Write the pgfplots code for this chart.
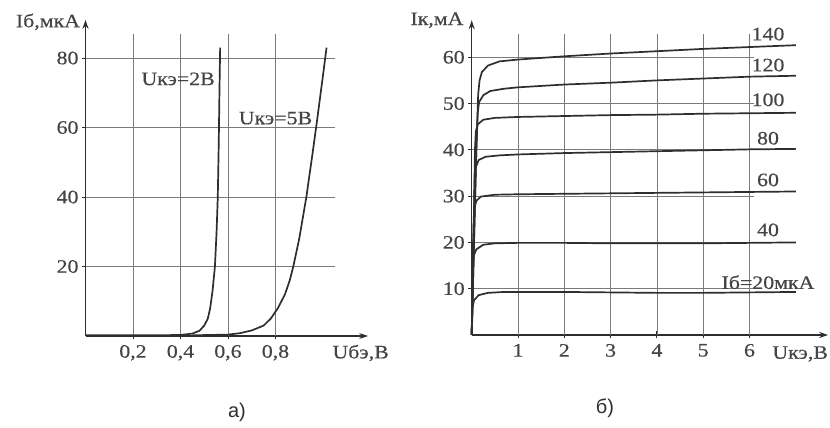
\documentclass[border=0pt]{standalone}
\usepackage{pgfplots}
\pgfplotsset{compat=1.18}
\usepackage{fontspec}
\setmainfont{Liberation Serif}[FakeStretch=1.15, FakeBold=0.4]
\newfontfamily\sansf{Liberation Sans}
\usetikzlibrary{arrows.meta}
\definecolor{ink}{HTML}{2E2E2E}
\definecolor{txt}{HTML}{444444}
\definecolor{gridc}{HTML}{7A7A7A}
\tikzset{gridl/.style={gridc, line width=0.7pt},
  lbl/.style={font=\fontsize{19}{19}\selectfont, text=txt, inner sep=1pt}}
\begin{document}
\begin{tikzpicture}
\useasboundingbox (0pt,0pt) rectangle (830pt,428pt);
\pgfplotsset{
  common/.style={
    scale only axis,
    axis lines=left,
    axis line style={-{Stealth[length=9pt,width=6pt]}, line width=1.5pt, ink},
    tick align=center,
    major tick length=7pt,
    tick style={ink, line width=0.9pt},
    ticklabel style={font=\fontsize{19}{19}\selectfont, text=txt},
    xticklabel style={yshift=-2pt},
    /pgf/number format/assume math mode=true,
    clip=false,
  },
  curve/.style={ink, line width=1.7pt},
}
% ---------- a) ----------
\begin{axis}[common,
  at={(85.5pt,92pt)}, anchor=south west,
  width=282.6pt, height=316.2pt,
  xmin=0, xmax=1.19, ymin=0, ymax=91,
  xtick={0.2,0.4,0.6,0.8},
  xticklabels={{0,2},{0,4},{0,6},{0,8}},
  ytick={20,40,60,80},
]
\foreach \xx in {0.2,0.4,0.6,0.8} {
  \edef\tmp{\noexpand\draw[gridl] (axis cs:\xx,0) -- (axis cs:\xx,87);}\tmp
}
\foreach \yy in {20,40,60,80} {
  \edef\tmp{\noexpand\draw[gridl] (axis cs:0,\yy) -- (axis cs:1.05,\yy);}\tmp
}
\addplot[curve] coordinates {(0,0.2)(0.3,0.2)(0.4,0.3)(0.45,0.7)(0.48,1.5)(0.5,3)(0.515,5)(0.525,8)(0.535,13)(0.545,20)(0.552,30)(0.557,40)(0.561,55)(0.564,70)(0.567,83)};
\addplot[curve] coordinates {(0.45,0.2)(0.6,0.4)(0.65,0.8)(0.7,1.6)(0.75,3)(0.78,5)(0.81,8)(0.84,12)(0.86,16)(0.875,20)(0.9,28)(0.93,40)(0.955,52)(0.975,62)(1.0,75)(1.015,83)};
\node[lbl] at (axis cs:0.39,74) {Uкэ=2В};
\node[lbl] at (axis cs:0.8,62.7) {Uкэ=5В};
\node[lbl] at (axis cs:-0.158,90.4) {Iб,мкА};
\node[lbl, anchor=west] at (axis cs:1.035,-4.9) {Uбэ,В};
\end{axis}
% ---------- b) ----------
\begin{axis}[common,
  at={(471.7pt,93pt)}, anchor=south west,
  width=356.5pt, height=314.8pt,
  xmin=0, xmax=7.7, ymin=0, ymax=68,
  xtick={1,2,3,4,5,6},
  ytick={10,20,30,40,50,60},
]
\foreach \xx in {1,2,3,4,5,6} {
  \edef\tmp{\noexpand\draw[gridl] (axis cs:\xx,0) -- (axis cs:\xx,65);}\tmp
}
\foreach \yy in {10,20,30,40,50,60} {
  \edef\tmp{\noexpand\draw[gridl] (axis cs:0,\yy) -- (axis cs:6.1,\yy);}\tmp
}
\addplot[curve] coordinates {(0,0)(0.05,20)(0.1,40)(0.14,52)(0.17,55)(0.22,56.8)(0.35,58.2)(0.6,59.1)(1,59.5)(2,60.2)(3,60.8)(4,61.3)(5,61.8)(6,62.2)(7,62.6)};
\addplot[curve] coordinates {(0,0)(0.05,20)(0.1,40)(0.13,48)(0.16,50.3)(0.25,51.8)(0.4,52.7)(0.7,53.2)(1,53.5)(2,54.1)(3,54.5)(4,55)(5,55.4)(6,55.8)(7,56)};
\addplot[curve] coordinates {(0,0)(0.04,20)(0.07,40)(0.09,44)(0.13,45.5)(0.25,46.5)(0.5,46.9)(1,47.1)(2,47.3)(3,47.5)(4,47.6)(5,47.8)(6,47.9)(7,48)};
\addplot[curve] coordinates {(0,0)(0.04,20)(0.06,33)(0.08,36)(0.15,37.8)(0.3,38.5)(0.6,38.8)(1,39)(2,39.3)(3,39.5)(4,39.7)(5,39.9)(6,40.1)(7,40.2)};
\addplot[curve] coordinates {(0,0)(0.03,20)(0.05,27)(0.1,29)(0.2,29.9)(0.5,30.3)(1,30.4)(2,30.5)(3,30.6)(4,30.7)(5,30.8)(6,30.9)(7,31)};
\addplot[curve] coordinates {(0,0)(0.02,12)(0.04,17)(0.1,18.5)(0.25,19.5)(0.5,19.8)(1,19.9)(2,19.9)(3,19.8)(4,19.8)(5,19.8)(6,19.9)(7,20)};
\addplot[curve] coordinates {(0,0)(0.02,6)(0.05,7.5)(0.15,8.6)(0.35,9.1)(0.7,9.3)(1,9.3)(2,9.3)(3,9.2)(4,9.1)(5,9.1)(6,9.2)(7,9.3)};
\foreach \lab/\yy in {140/65, 120/58.3, 100/50.8, 80/42.5, 60/33.5, 40/22.7} {
  \edef\tmp{\noexpand\node[lbl] at (axis cs:6.4,\yy) {\lab};}\tmp
}
\node[lbl] at (axis cs:6.4,11.4) {Iб=20мкА};
\node[lbl] at (axis cs:-0.75,68) {Iк,мА};
\node[lbl, anchor=east] at (axis cs:7.72,-4.1) {Uкэ,В};
\end{axis}
\node[font=\sansf\fontsize{20}{20}\selectfont, text=ink] at (237pt,16pt) {а)};
\node[font=\sansf\fontsize{20}{20}\selectfont, text=ink] at (605pt,20pt) {б)};
\end{tikzpicture}
\end{document}
